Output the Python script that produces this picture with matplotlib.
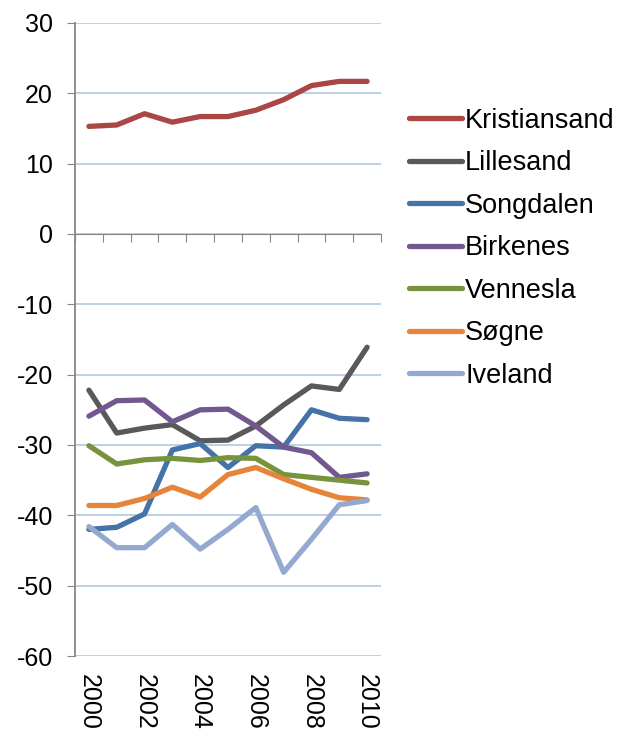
import numpy as np
import matplotlib
matplotlib.use("Agg")
import matplotlib.pyplot as plt
import matplotlib.transforms as mtransforms

plt.rcParams['font.family'] = ['Liberation Sans', 'DejaVu Sans']
plt.rcParams['axes.unicode_minus'] = False

# Years on the category axis
years = [2000, 2001, 2002, 2003, 2004, 2005, 2006, 2007, 2008, 2009, 2010]
year_labels = ['2000', '2002', '2004', '2006', '2008', '2010']

# Series values
kristiansand = [15.3, 15.5, 17.1, 15.9, 16.7, 16.7, 17.6, 19.1, 21.1, 21.7, 21.7]
lillesand = [-22.2, -28.3, -27.6, -27.1, -29.4, -29.3, -27.3, -24.3, -21.6, -22.1, -16.1]
songdalen = [-42.0, -41.7, -39.8, -30.7, -29.8, -33.2, -30.1, -30.3, -25.0, -26.2, -26.4]
birkenes = [-25.9, -23.7, -23.6, -26.7, -25.0, -24.9, -27.3, -30.3, -31.1, -34.6, -34.1]
vennesla = [-30.1, -32.7, -32.1, -31.9, -32.2, -31.8, -31.9, -34.2, -34.6, -35.0, -35.4]
sogne = [-38.6, -38.6, -37.6, -36.0, -37.4, -34.2, -33.2, -34.8, -36.3, -37.5, -37.8]
iveland = [-41.6, -44.6, -44.6, -41.3, -44.8, -42.0, -38.9, -48.1, -43.4, -38.5, -37.9]

series = [
    ('Kristiansand', kristiansand, '#AA4643'),
    ('Lillesand', lillesand, '#595959'),
    ('Songdalen', songdalen, '#4572A7'),
    ('Birkenes', birkenes, '#71588F'),
    ('Vennesla', vennesla, '#77933C'),
    ('Søgne', sogne, '#E6843A'),
    ('Iveland', iveland, '#93A9CF'),
]

fig = plt.figure(figsize=(6.17, 7.31), dpi=100)
ax = fig.add_axes([75 / 617, 75 / 731, 306 / 617, 633 / 731])

x = np.arange(len(years))
for name, vals, col in series:
    ax.plot(x, vals, color=col, linewidth=3.8, label=name, solid_capstyle='round', zorder=3)

ax.set_xlim(-0.5, len(years) - 0.5)
ax.set_ylim(-60, 30)
ax.set_yticks(np.arange(-60, 31, 10))
ax.yaxis.grid(True, color='#B9CDE5', linewidth=1.3)
ax.set_axisbelow(True)

# category axis crosses at zero, ticks between categories
ax.spines['bottom'].set_position(('data', 0))
ax.spines['bottom'].set_color('#868686')
ax.spines['bottom'].set_zorder(2)
ax.spines['left'].set_color('#868686')
ax.spines['left'].set_linewidth(1.3)
ax.spines['right'].set_visible(False)
ax.spines['top'].set_visible(False)
ax.set_xticks(np.arange(-0.5, len(years), 1.0))
ax.tick_params(axis='x', direction='out', length=6, color='#868686', labelbottom=False)
ax.tick_params(axis='y', direction='out', length=6, color='#868686', labelsize=18, pad=10)

# year labels below the plot
trans = mtransforms.blended_transform_factory(ax.transData, ax.transAxes)
for lab in year_labels:
    ax.text(years.index(int(lab)), -0.028, lab, transform=trans, rotation=-90,
            ha='center', va='top', fontsize=18)

fig.legend(loc='upper left', bbox_to_anchor=(409 / 617, 1 - 107.5 / 731), frameon=False,
           fontsize=19.5, handlelength=1.95, handletextpad=0.12, labelspacing=0.61,
           borderpad=0, borderaxespad=0)

fig.savefig('out.png', dpi=100)
